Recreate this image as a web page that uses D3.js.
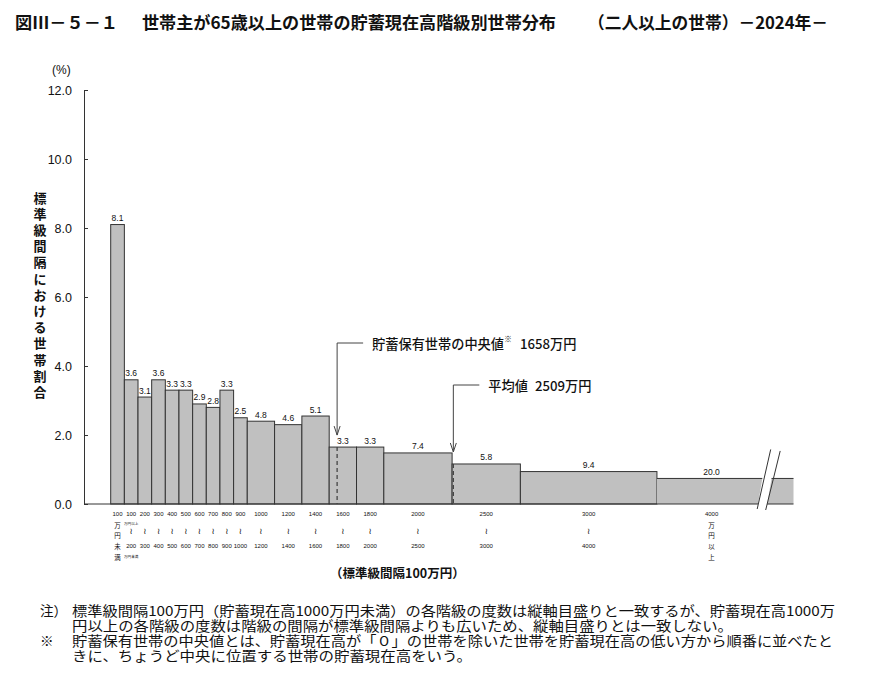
<!DOCTYPE html>
<html>
<head>
<meta charset="utf-8">
<script src="https://cdn.jsdelivr.net/npm/d3@7"></script>
<style>
body { margin: 0; background: #fff; }
svg text { font-family: "Noto Sans CJK JP", "Liberation Sans", sans-serif; fill: #111; }
.num { font-family: "Liberation Sans", Arial, sans-serif; }
.wave { font-family: "DejaVu Sans", sans-serif; }
</style>
</head>
<body>
<svg id="chart" width="870" height="689"></svg>
<script>
// savings classes (万円) and share of households (%)
var lowerBounds = [0, 100, 200, 300, 400, 500, 600, 700, 800, 900, 1000, 1200, 1400, 1600, 1800, 2000, 2500, 3000, 4000];
var upperBounds = [100, 200, 300, 400, 500, 600, 700, 800, 900, 1000, 1200, 1400, 1600, 1800, 2000, 2500, 3000, 4000, null];
var shares = [8.1, 3.6, 3.1, 3.6, 3.3, 3.3, 2.9, 2.8, 3.3, 2.5, 4.8, 4.6, 5.1, 3.3, 3.3, 7.4, 5.8, 9.4, 20.0];
var yTicks = [0, 2, 4, 6, 8, 10, 12];
var medianValue = 1658;
var meanValue = 2509;
var openClassSpan = 2700;   // nominal interval used to scale the open-ended class
var standardInterval = 100;

var titleParts = ["図Ⅲ－５－１", "世帯主が65歳以上の世帯の貯蓄現在高階級別世帯分布", "（二人以上の世帯）－2024年－"];
var yTitle = "標準級間隔における世帯割合";
var notes = [
  ["注）", "標準級間隔100万円（貯蓄現在高1000万円未満）の各階級の度数は縦軸目盛りと一致するが、貯蓄現在高1000万"],
  ["", "円以上の各階級の度数は階級の間隔が標準級間隔よりも広いため、縦軸目盛りとは一致しない。"],
  ["※", "貯蓄保有世帯の中央値とは、貯蓄現在高が「０」の世帯を除いた世帯を貯蓄現在高の低い方から順番に並べたと"],
  ["", "きに、ちょうど中央に位置する世帯の貯蓄現在高をいう。"]
];

var svg = d3.select("#chart");

var x = d3.scaleLinear().domain([0, 5000]).range([110.7, 793.5]);
var y = d3.scaleLinear().domain([0, 12]).range([504, 90]);
var breakAt = 4800;

var classes = shares.map(function(s, i) {
    var lo = lowerBounds[i], hi = upperBounds[i];
    var span = hi === null ? openClassSpan : hi - lo;
    return {i: i, lo: lo, hi: hi, share: s, drawHi: hi === null ? x.domain()[1] : hi,
            h: s * standardInterval / span};
});

// title
var titleX = [[15, 103], [142, 414], [588, 240]];
titleParts.forEach(function(t, k) {
    svg.append("text")
        .attr("x", titleX[k][0]).attr("y", 29)
        .attr("font-size", 17).attr("font-weight", "bold")
        .attr("textLength", titleX[k][1]).attr("lengthAdjust", "spacingAndGlyphs")
        .text(t);
});

// y axis
var yAxis = d3.axisLeft(y).tickValues(yTicks).tickFormat(d3.format(".1f"))
    .tickSizeInner(-4).tickSizeOuter(0).tickPadding(12);
var gy = svg.append("g").attr("transform", "translate(84,0)").call(yAxis);
gy.selectAll("path, line").attr("stroke", "#333");
gy.selectAll("text").attr("class", "num").attr("font-size", 12.5).attr("fill", "#111");

svg.append("text").attr("class", "num").attr("x", 52).attr("y", 74)
    .attr("font-size", 12).text("(%)");

svg.append("g").selectAll("text")
    .data(yTitle.split(""))
    .join("text")
    .attr("x", 40).attr("y", function(d, k) { return 197 + k * 16.2; })
    .attr("text-anchor", "middle").attr("dominant-baseline", "central")
    .attr("font-size", 13).attr("font-weight", "bold")
    .text(function(d) { return d; });

// bars
var gb = svg.append("g");
gb.selectAll("rect")
    .data(classes)
    .join("rect")
    .attr("x", function(d) { return x(d.lo); })
    .attr("y", function(d) { return y(d.h); })
    .attr("width", function(d) { return x(d.drawHi) - x(d.lo); })
    .attr("height", function(d) { return y(0) - y(d.h); })
    .attr("fill", "#c0c0c0")
    .attr("stroke", function(d) { return d.hi === null ? "none" : "#333"; })
    .attr("stroke-width", 1);

var openCls = classes[classes.length - 1];
gb.append("line")
    .attr("x1", x(openCls.lo)).attr("x2", x(openCls.drawHi))
    .attr("y1", y(openCls.h)).attr("y2", y(openCls.h))
    .attr("stroke", "#333");

// baseline
svg.append("line")
    .attr("x1", 84).attr("x2", x(x.domain()[1]))
    .attr("y1", y(0)).attr("y2", y(0))
    .attr("stroke", "#333");

// break mark on the open class
var bx = x(breakAt), bTop = y(openCls.h) - 29, bBot = y(0) + 6;
svg.append("polygon")
    .attr("points", [[bx + 1, bTop], [bx + 10, bTop + 1], [bx + 0, bBot], [bx - 9, bBot - 1]].join(" "))
    .attr("fill", "#fff");
[[bx + 4.5, bTop, bx - 9, bBot - 1], [bx + 14, bTop + 1.5, bx - 0.5, bBot]].forEach(function(p) {
    svg.append("line").attr("x1", p[0]).attr("y1", p[1]).attr("x2", p[2]).attr("y2", p[3])
        .attr("stroke", "#333").attr("stroke-width", 1);
});

// value labels
svg.append("g").selectAll("text")
    .data(classes)
    .join("text")
    .attr("class", "num")
    .attr("x", function(d) {
        return d.hi === null ? (x(d.lo) + x(breakAt)) / 2 : x((d.lo + d.hi) / 2);
    })
    .attr("y", function(d) { return y(d.h) - 3.5; })
    .attr("text-anchor", "middle").attr("font-size", 8.5)
    .text(function(d) { return d3.format(".1f")(d.share); });

// category labels
var gx = svg.append("g");
classes.forEach(function(d) {
    var cx = d.hi === null ? (x(d.lo) + x(breakAt)) / 2 : x((d.lo + d.hi) / 2);
    function put(txt, yy, size, cls) {
        gx.append("text").attr("class", cls || null)
            .attr("x", cx).attr("y", yy)
            .attr("text-anchor", "middle").attr("dominant-baseline", "central")
            .attr("font-size", size).text(txt);
    }
    if (d.lo === 0) {
        put(String(d.hi), 514, 6, "num");
        "万円未満".split("").forEach(function(c, k) { put(c, 524.5 + k * 10.8, 6.5); });
    } else if (d.hi === null) {
        put(String(d.lo), 514, 6, "num");
        "万円以上".split("").forEach(function(c, k) { put(c, 524.5 + k * 10.8, 6.5); });
    } else {
        put(String(d.lo), 514, 6, "num");
        put("≀", 530.5, 8.5, "wave");
        put(String(d.hi), 546, 6, "num");
        if (d.i === 1) {
            put("万円以上", 523.5, 3.6);
            put("万円未満", 556.5, 3.6);
        }
    }
});

svg.append("text").attr("x", 330).attr("y", 578)
    .attr("font-size", 12.5).attr("font-weight", "bold")
    .text("（標準級間隔100万円）");

// median and mean markers
function barAt(v) {
    return classes.filter(function(d) { return v >= d.lo && (d.hi === null || v < d.hi); })[0];
}
function marker(v, labelY, parts) {
    var mx = x(v), top = y(barAt(v).h), tip = top - 12;
    var g = svg.append("g").attr("stroke", "#444").attr("fill", "none");
    g.append("line").attr("x1", mx).attr("x2", mx).attr("y1", top).attr("y2", y(0))
        .attr("stroke-dasharray", "4,3").attr("stroke-width", 1.3);
    g.append("line").attr("x1", mx).attr("x2", mx).attr("y1", labelY).attr("y2", tip);
    g.append("line").attr("x1", mx).attr("x2", mx + 26).attr("y1", labelY).attr("y2", labelY);
    g.append("polyline").attr("points", [[mx - 3, tip - 9], [mx, tip], [mx + 3, tip - 9]].join(" "));
    var t = svg.append("text").attr("x", mx + 35).attr("y", labelY)
        .attr("dominant-baseline", "central").attr("font-size", 13.2).attr("font-weight", 500);
    parts.forEach(function(p) {
        var ts = t.append("tspan").text(p.t);
        if (p.sup) ts.attr("font-size", 8).attr("dy", -5);
        if (p.down) ts.attr("dy", 5);
        if (p.dx) ts.attr("dx", p.dx);
    });
}
marker(medianValue, 343, [
    {t: "貯蓄保有世帯の中央値"},
    {t: "※", sup: true},
    {t: d3.format("d")(medianValue) + "万円", down: true, dx: 8}
]);
marker(meanValue, 385, [
    {t: "平均値"},
    {t: d3.format("d")(meanValue) + "万円", dx: 7}
]);

// notes
var noteY = [610, 625, 640, 655];
var noteLen = [763, 661, 761, 400];
notes.forEach(function(n, k) {
    if (n[0]) {
        svg.append("text").attr("x", 40).attr("y", noteY[k])
            .attr("dominant-baseline", "central").attr("font-size", 13.6).text(n[0]);
    }
    svg.append("text").attr("x", 72).attr("y", noteY[k])
        .attr("dominant-baseline", "central").attr("font-size", 13.6)
        .attr("textLength", noteLen[k]).attr("lengthAdjust", "spacingAndGlyphs")
        .text(n[1]);
});
</script>
</body>
</html>
